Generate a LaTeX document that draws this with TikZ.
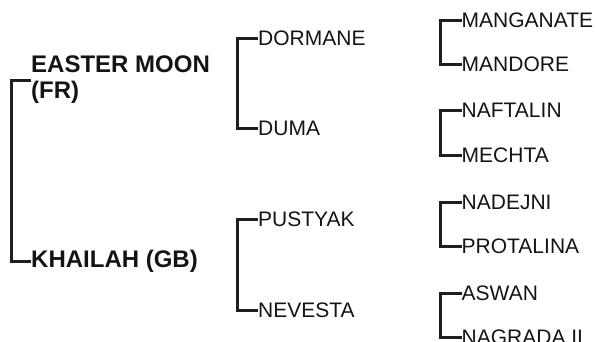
\documentclass[tikz,border=0pt]{standalone}
\usepackage{fontspec}
\setmainfont{Liberation Sans}
\begin{document}
\begin{tikzpicture}[x=1pt,y=-1pt,
  br/.style={line width=3pt, line join=miter, color=black!88},
  lab/.style={inner sep=0pt, anchor=west, text=black!92, font=\fontsize{21}{24}\selectfont},
  root/.style={inner sep=0pt, anchor=west, align=left, text=black!92, font=\bfseries\fontsize{24}{26}\selectfont}]
\useasboundingbox (0,0) rectangle (597,341);
% level 1
\node[root] (em) at (31,80) {EASTER MOON\\(FR)};
\node[root] (kh) at (31,261) {KHAILAH (GB)};
% level 2
\node[lab] (dor) at (258,38) {DORMANE};
\node[lab] (dum) at (258,128) {DUMA};
\node[lab] (pus) at (258,219) {PUSTYAK};
\node[lab] (nev) at (258,310) {NEVESTA};
% level 3
\node[lab] (man) at (461.5,20.7) {MANGANATE};
\node[lab] (mdr) at (461.5,64) {MANDORE};
\node[lab] (naf) at (461.5,110) {NAFTALIN};
\node[lab] (mec) at (461.5,155) {MECHTA};
\node[lab] (nad) at (461.5,202.5) {NADEJNI};
\node[lab] (pro) at (461.5,246.5) {PROTALINA};
\node[lab] (asw) at (461.5,293) {ASWAN};
\node[lab] (nag) at (461.5,337) {NAGRADA II};
% brackets
\draw[br] (em.west) -- ++(-19.5,0) |- (kh.west);
\draw[br] (dor.west) -- ++(-21,0) |- (dum.west);
\draw[br] (pus.west) -- ++(-21,0) |- (nev.west);
\draw[br] (man.west) -- ++(-20.7,0) |- (mdr.west);
\draw[br] (naf.west) -- ++(-20.7,0) |- (mec.west);
\draw[br] (nad.west) -- ++(-20.7,0) |- (pro.west);
\draw[br] (asw.west) -- ++(-20.7,0) |- (nag.west);
\end{tikzpicture}
\end{document}
